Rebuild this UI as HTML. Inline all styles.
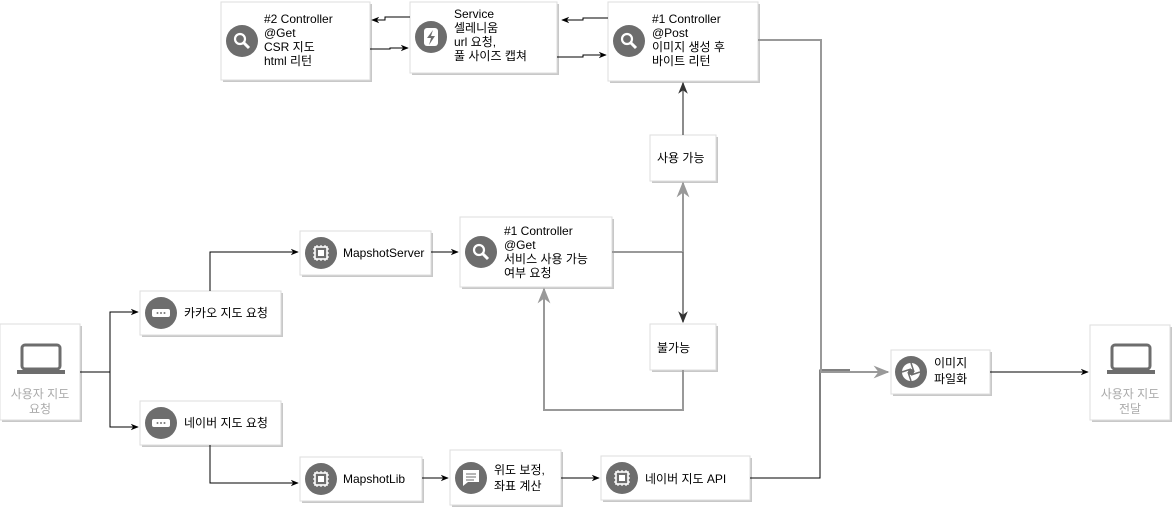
<!DOCTYPE html>
<html><head><meta charset="utf-8"><style>
body{margin:0;background:#fff;}
svg{display:block;font-family:"Liberation Sans","Noto Sans CJK KR",sans-serif;font-size:12px;}
</style></head><body>
<svg width="1174" height="511" viewBox="0 0 1174 511" xmlns="http://www.w3.org/2000/svg">
<defs>
<marker id="a" viewBox="0 0 10 10" refX="9" refY="5" markerWidth="8" markerHeight="8" orient="auto"><path d="M0,1 L10,5 L0,9 L3,5z" fill="#000"/></marker>
<marker id="g" viewBox="0 0 10 10" refX="9" refY="5" markerWidth="8" markerHeight="8" orient="auto"><path d="M0,1 L10,5 L0,9 L3,5z" fill="#999"/></marker>
<marker id="d" viewBox="0 0 10 10" refX="9" refY="5" markerWidth="8" markerHeight="8" orient="auto"><path d="M0,1 L10,5 L0,9 L3,5z" fill="#333"/></marker>
<g id="chip"><rect x="-6" y="-6" width="12" height="12" fill="none" stroke="#fff" stroke-width="1.6"/><rect x="-3" y="-3" width="6" height="6" fill="#fff"/><path d="M-4,-8v2M0,-8v2M4,-8v2M-4,6v2M0,6v2M4,6v2M-8,-4h2M-8,0h2M-8,4h2M6,-4h2M6,0h2M6,4h2" stroke="#fff" stroke-width="1.2"/></g>
<g id="mag"><circle cx="-2" cy="-2" r="5" fill="none" stroke="#fff" stroke-width="2.2"/><path d="M2,2 L7,7" stroke="#fff" stroke-width="3"/></g>
<g id="dots"><rect x="-9" y="-4" width="18" height="8" rx="2" fill="#fff"/><circle cx="-3.5" cy="0" r="1" fill="#777"/><circle cx="0" cy="0" r="1" fill="#777"/><circle cx="3.5" cy="0" r="1" fill="#777"/></g>
</defs>
<g fill="#fff" stroke="#ddd">
<!-- shadows -->
<g fill="#c8c8c8" stroke="none">
<rect x="223" y="4" width="149" height="78"/><rect x="412" y="4" width="147" height="71"/><rect x="610" y="4" width="150" height="79"/>
<rect x="652" y="137" width="66" height="46"/><rect x="302" y="233" width="131" height="44"/><rect x="462" y="219" width="152" height="70"/>
<rect x="142" y="293" width="141" height="44"/><rect x="652" y="326" width="66" height="46"/><rect x="2" y="326" width="80" height="96"/>
<rect x="142" y="403" width="141" height="44"/><rect x="302" y="459" width="122" height="44"/><rect x="452" y="452" width="111" height="55"/>
<rect x="603" y="458" width="149" height="44"/><rect x="893" y="352" width="99" height="44"/><rect x="1092" y="327" width="80" height="95"/>
</g>
<rect x="221" y="2" width="149" height="78"/><rect x="410" y="2" width="147" height="71"/><rect x="608" y="2" width="150" height="79"/>
<rect x="650" y="135" width="66" height="46"/><rect x="300" y="231" width="131" height="44"/><rect x="460" y="217" width="152" height="70"/>
<rect x="140" y="291" width="141" height="44"/><rect x="650" y="324" width="66" height="46"/><rect x="0" y="324" width="80" height="96"/>
<rect x="140" y="401" width="141" height="44"/><rect x="300" y="457" width="122" height="44"/><rect x="450" y="450" width="111" height="55"/>
<rect x="601" y="456" width="149" height="44"/><rect x="891" y="350" width="99" height="44"/><rect x="1090" y="325" width="80" height="95"/>
</g>
<!-- icons -->
<g fill="#6d6d6d">
<circle cx="242" cy="41" r="16"/><circle cx="431" cy="37" r="16"/><circle cx="629" cy="41" r="16"/>
<circle cx="321" cy="253" r="16"/><circle cx="481" cy="252" r="16"/><circle cx="161" cy="313" r="16"/><circle cx="161" cy="423" r="16"/>
<circle cx="321" cy="479" r="16"/><circle cx="471" cy="478" r="16"/><circle cx="622" cy="478" r="16"/><circle cx="911" cy="372" r="16"/>
</g>
<use href="#mag" x="242" y="41"/><use href="#mag" x="629" y="41"/><use href="#mag" x="481" y="252"/>
<use href="#chip" x="321" y="253"/><use href="#chip" x="321" y="479"/><use href="#chip" x="622" y="478"/>
<use href="#dots" x="161" y="313"/><use href="#dots" x="161" y="423"/>
<rect x="424" y="28" width="14" height="18" rx="3" fill="#fff"/><path d="M433,30 L427,38 L431,38 L429,45 L435,36 L431,36z" fill="#6d6d6d"/>
<path d="M463,470 h16 v12 h-11 l-5,4z" fill="#fff"/><path d="M466,474h10M466,477h10M466,480h8" stroke="#6d6d6d"/>
<circle cx="911" cy="372" r="9" fill="#fff"/><circle cx="911" cy="372" r="3" fill="#6d6d6d"/><path d="M911,363 L914,372 M920,372 L911,375 M911,381 L908,372 M902,372 L911,369" stroke="#6d6d6d" stroke-width="1.5"/>
<g fill="none" stroke="#6d6d6d" stroke-width="3"><rect x="22" y="345" width="38" height="24" rx="3"/><rect x="1112" y="345" width="38" height="24" rx="3"/></g>
<rect x="17" y="370" width="48" height="4" fill="#6d6d6d"/><rect x="1107" y="370" width="48" height="4" fill="#6d6d6d"/>
<!-- text -->
<g fill="#000">
<text x="264" y="23">#2 Controller</text><text x="264" y="37">@Get</text><text x="264" y="51">CSR 지도</text><text x="264" y="65">html 리턴</text>
<text x="454" y="18">Service</text><text x="454" y="32">셀레니움</text><text x="454" y="46">url 요청,</text><text x="454" y="60">풀 사이즈 캡쳐</text>
<text x="652" y="23">#1 Controller</text><text x="652" y="37">@Post</text><text x="652" y="51">이미지 생성 후</text><text x="652" y="65">바이트 리턴</text>
<text x="657" y="162">사용 가능</text><text x="343" y="257">MapshotServer</text>
<text x="504" y="235">#1 Controller</text><text x="504" y="249">@Get</text><text x="504" y="263">서비스 사용 가능</text><text x="504" y="277">여부 요청</text>
<text x="184" y="317">카카오 지도 요청</text><text x="657" y="352">불가능</text><text x="184" y="427">네이버 지도 요청</text>
<text x="343" y="483">MapshotLib</text><text x="494" y="474">위도 보정,</text><text x="494" y="490">좌표 계산</text>
<text x="645" y="483">네이버 지도 API</text><text x="934" y="367">이미지</text><text x="934" y="383">파일화</text>
</g>
<g fill="#aaa" text-anchor="middle"><text x="40" y="398">사용자 지도</text><text x="40" y="413">요청</text><text x="1130" y="398">사용자 지도</text><text x="1130" y="413">전달</text></g>
<!-- connectors -->
<g fill="none" stroke="#000" stroke-width="1">
<path d="M80,372 H110 V312 H138" marker-end="url(#a)"/><path d="M110,372 V427 H138" marker-end="url(#a)"/>
<path d="M210,291 V252 H298" marker-end="url(#a)"/><path d="M431,252 H458" marker-end="url(#a)"/>
<path d="M210,445 V483 H298" marker-end="url(#a)"/><path d="M422,478 H448" marker-end="url(#a)"/><path d="M561,478 H599" marker-end="url(#a)"/>
<path d="M750,478 H820 V370 H850"/><path d="M990,372 H1088" marker-end="url(#a)"/>
<path d="M410,17 H385 V20 H372" marker-end="url(#a)"/><path d="M370,49 H390 V48 H408" marker-end="url(#a)"/>
<path d="M608,18 H583 V20 H562" marker-end="url(#a)"/><path d="M557,57 H583 V55 H606" marker-end="url(#a)"/>
</g>
<g fill="none" stroke="#999" stroke-width="2">
<path d="M758,40 H821 V372 H888" marker-end="url(#g)"/>
<path d="M612,252 H683"/><path d="M683,252 V183" marker-end="url(#g)"/>
<path d="M683,370 V410 H544 V289" marker-end="url(#g)"/>
</g>
<g fill="none" stroke="#666" stroke-width="1.5">
<path d="M683,135 V83" marker-end="url(#d)"/><path d="M683,252 V322" marker-end="url(#d)"/>
</g>
</svg>
</body></html>
